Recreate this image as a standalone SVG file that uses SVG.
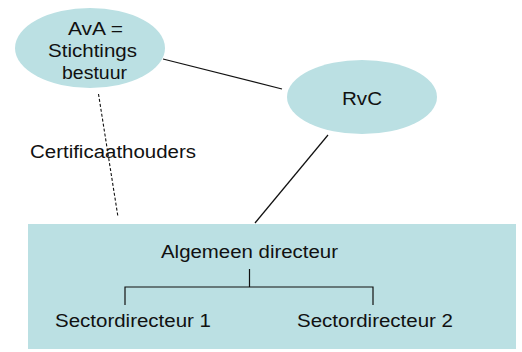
<svg xmlns="http://www.w3.org/2000/svg" width="522" height="352" viewBox="0 0 522 352">
<style>
.node{fill:#BBE0E3;stroke:none}
.t{font-family:"Liberation Sans",Arial,sans-serif;font-size:18px;fill:#111}
.c{stroke:#111;stroke-width:1.2;fill:none}
.d{stroke:#111;stroke-width:1.1;fill:none;stroke-dasharray:3,2}
</style>
<rect width="522" height="352" fill="#fff"/>
<g id="connectors">
<line class="c" x1="163" y1="59" x2="282" y2="89"/>
<line class="c" x1="328" y1="135" x2="255" y2="223"/>
<line class="d" x1="98.5" y1="94" x2="118" y2="217"/>
</g>
<g id="ava">
<ellipse class="node" cx="90" cy="48" rx="75" ry="40"/>
<text class="t" x="68" y="35" textLength="55" lengthAdjust="spacingAndGlyphs">AvA =</text>
<text class="t" x="48" y="57" textLength="89" lengthAdjust="spacingAndGlyphs">Stichtings</text>
<text class="t" x="62" y="79" textLength="65" lengthAdjust="spacingAndGlyphs">bestuur</text>
</g>
<g id="rvc">
<ellipse class="node" cx="362" cy="97" rx="75" ry="37"/>
<text class="t" x="342" y="105" textLength="40" lengthAdjust="spacingAndGlyphs">RvC</text>
</g>
<g id="certificaathouders">
<text class="t" x="30" y="158" textLength="166" lengthAdjust="spacingAndGlyphs">Certificaathouders</text>
</g>
<g id="directie">
<rect class="node" x="28" y="224" width="488" height="125"/>
<text class="t" x="161" y="258" textLength="177" lengthAdjust="spacingAndGlyphs">Algemeen directeur</text>
<path class="c" d="M249.5 269V287M125 305V287H373V305"/>
<text class="t" x="55" y="327" textLength="156" lengthAdjust="spacingAndGlyphs">Sectordirecteur 1</text>
<text class="t" x="297" y="327" textLength="156" lengthAdjust="spacingAndGlyphs">Sectordirecteur 2</text>
</g>
</svg>
